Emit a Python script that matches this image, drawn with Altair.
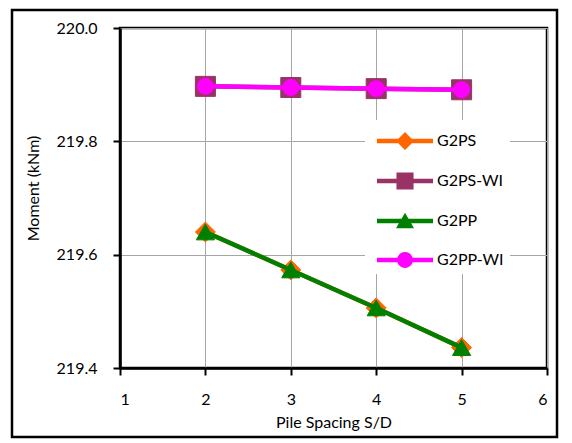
import altair as alt
import pandas as pd

# ---- data ----
spacing = [2, 3, 4, 5]
g2ps = [219.640, 219.573, 219.506, 219.436]
g2ps_wi = [219.897, 219.895, 219.893, 219.891]
g2pp = [219.640, 219.573, 219.506, 219.436]
g2pp_wi = [219.897, 219.895, 219.893, 219.891]
series_names = ["G2PS", "G2PS-WI", "G2PP", "G2PP-WI"]
x_ticks = [1, 2, 3, 4, 5, 6]
y_ticks = [219.4, 219.6, 219.8, 220.0]

# ---- styles ----
colors = ["#FF6600", "#993366", "#008000", "#FF00FF"]
shapes = ["diamond", "square", "triangle-up", "circle"]
sizes = [400, 400, 330, 256]
LINE = "M-1.87,-0.15H1.87V0.15H-1.87Z "
legend_paths = [
    LINE + "M0,-0.6L0.6,0L0,0.6L-0.6,0Z",
    LINE + "M-0.57,-0.57H0.57V0.57H-0.57Z",
    LINE + "M0,-0.55L0.6,0.48L-0.6,0.48Z",
    LINE + "M-0.53,0A0.53,0.53 0 1 1 0.53,0A0.53,0.53 0 1 1 -0.53,0Z",
]
FONT = "Lato"

rows = []
for name, vals in zip(series_names, [g2ps, g2ps_wi, g2pp, g2pp_wi]):
    for s, v in zip(spacing, vals):
        rows.append({"series": name, "spacing": s, "moment": v})
df = pd.DataFrame(rows)

X = alt.X(
    "spacing:Q",
    scale=alt.Scale(domain=[1, 6], nice=False, zero=False),
    axis=alt.Axis(
        values=x_ticks, title="Pile Spacing S/D", format="d",
        labelPadding=16, titleY=54, titleBaseline="middle", titleAlign="center",
    ),
)
Y = alt.Y(
    "moment:Q",
    scale=alt.Scale(domain=[219.4, 220.0], nice=False, zero=False),
    axis=alt.Axis(
        values=y_ticks, title="Moment (kNm)", format=".1f",
        labelPadding=16, titleX=-87, titleY=160, titleAngle=270,
        titleBaseline="middle", titleAlign="center",
    ),
)

layers = []
for name, col, shp, sz in zip(series_names, colors, shapes, sizes):
    base = alt.Chart(df).transform_filter(alt.datum.series == name)
    layers.append(base.mark_line(color=col, strokeWidth=4.5).encode(x=X, y=Y))
    layers.append(
        base.mark_point(filled=True, shape=shp, size=sz, color=col, opacity=1,
                        stroke=col, strokeWidth=1).encode(x=X, y=Y)
    )

leg = alt.Legend(
    title=None, orient="none", legendX=245, legendY=92, fillColor="white",
    padding=6, symbolSize=900, symbolStrokeWidth=0, symbolOpacity=1,
    symbolOffset=19, labelFont=FONT, labelFontSize=16, labelColor="black",
    labelOffset=17, rowPadding=16,
)
legend_layer = alt.Chart(df).mark_point(filled=True, opacity=0).encode(
    x=X, y=Y,
    color=alt.Color("series:N", scale=alt.Scale(domain=series_names, range=colors), legend=leg),
    shape=alt.Shape("series:N", scale=alt.Scale(domain=series_names, range=legend_paths), legend=leg),
)

frame = alt.Chart(alt.Data(values=[{}])).mark_rect(
    filled=False, stroke="black", strokeWidth=2.5, clip=False
).encode(x=alt.value(-108), x2=alt.value(437), y=alt.value(-18), y2=alt.value(409))

chart = alt.layer(*layers, legend_layer, frame).properties(
    width=427, height=340,
    autosize=alt.AutoSizeParams(type="none"),
    padding={"left": 112, "top": 20, "right": 16, "bottom": 72},
    background="white",
).configure_view(
    stroke="black", strokeWidth=2.5,
).configure_axis(
    domainColor="black", domainWidth=2.5, tickColor="black", tickWidth=2, tickSize=7,
    gridColor="#a6a6a6", gridWidth=1, labelFont=FONT, labelFontSize=16,
    labelColor="black", titleFont=FONT, titleFontSize=16, titleFontWeight="normal",
    titleColor="black",
)

chart.save("out.html", embed_options={"renderer": "svg", "actions": False})
